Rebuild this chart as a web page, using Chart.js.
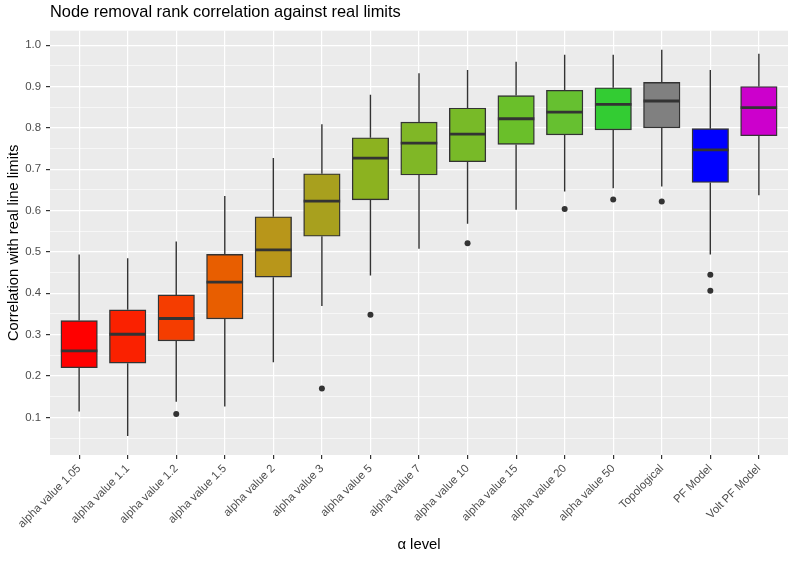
<!DOCTYPE html>
<html>
<head>
<meta charset="utf-8">
<script src="https://cdn.jsdelivr.net/npm/chart.js@4/dist/chart.umd.min.js"></script>
<style>
  body { margin: 0; background: #fff; }
</style>
</head>
<body>
<canvas id="box_chart" width="795" height="561"></canvas>
<script>
// categories and the five-number summaries
var categories = ["alpha value 1.05", "alpha value 1.1", "alpha value 1.2", "alpha value 1.5",
    "alpha value 2", "alpha value 3", "alpha value 5", "alpha value 7", "alpha value 10",
    "alpha value 15", "alpha value 20", "alpha value 50", "Topological", "PF Model", "Volt PF Model"];
var whiskerLow  = [0.114, 0.055, 0.138, 0.126, 0.233, 0.369, 0.443, 0.508, 0.568, 0.602, 0.646, 0.654, 0.658, 0.494, 0.637];
var lowerQ      = [0.220, 0.231, 0.285, 0.338, 0.439, 0.538, 0.626, 0.686, 0.718, 0.760, 0.783, 0.795, 0.800, 0.668, 0.781];
var medians     = [0.261, 0.301, 0.339, 0.427, 0.505, 0.623, 0.727, 0.763, 0.785, 0.822, 0.838, 0.857, 0.865, 0.747, 0.849];
var upperQ      = [0.334, 0.360, 0.396, 0.494, 0.585, 0.689, 0.776, 0.814, 0.848, 0.878, 0.891, 0.897, 0.910, 0.798, 0.900];
var whiskerHigh = [0.494, 0.485, 0.525, 0.635, 0.727, 0.809, 0.880, 0.932, 0.940, 0.960, 0.977, 0.977, 0.989, 0.940, 0.979];
var outliers = [[], [], [0.108], [], [], [0.170], [0.348], [], [0.521], [], [0.604], [0.627], [0.622], [0.445, 0.406], []];
var boxColors = ["#FF0000", "#FA2100", "#F53D00", "#E85E00", "#B8961A", "#A8A01E", "#8CB220", "#80B726",
    "#78BA28", "#6ABF2A", "#66C030", "#33CC33", "#808080", "#0000FF", "#CC00CC"];
var yMajor = [0.1, 0.2, 0.3, 0.4, 0.5, 0.6, 0.7, 0.8, 0.9, 1.0];
var yMinor = [0.05, 0.15, 0.25, 0.35, 0.45, 0.55, 0.65, 0.75, 0.85, 0.95];

var FONT = '"Liberation Sans", Arial, Helvetica, sans-serif';
var DARK = '#333333';

function isMajor(v) {
    return yMajor.some(function (m) { return Math.abs(m - v) < 1e-6; });
}

var boxes = categories.map(function (c, i) {
    return { x: i, y: [lowerQ[i], upperQ[i]] };
});
var outlierPoints = [];
outliers.forEach(function (list, i) {
    list.forEach(function (v) { outlierPoints.push({ x: i, y: v }); });
});

// grey panel, whiskers and medians
var boxPlugin = {
    id: 'boxExtras',
    beforeDraw: function (chart) {
        var a = chart.chartArea, ctx = chart.ctx;
        ctx.save();
        ctx.fillStyle = '#EBEBEB';
        ctx.fillRect(a.left, a.top, a.right - a.left, a.bottom - a.top);
        ctx.restore();
    },
    beforeDatasetsDraw: function (chart) {
        var ctx = chart.ctx, xs = chart.scales.x, ys = chart.scales.y;
        ctx.save();
        ctx.strokeStyle = DARK;
        ctx.lineWidth = 1.4;
        categories.forEach(function (c, i) {
            var x = xs.getPixelForValue(i);
            ctx.beginPath();
            ctx.moveTo(x, ys.getPixelForValue(whiskerLow[i]));
            ctx.lineTo(x, ys.getPixelForValue(lowerQ[i]));
            ctx.moveTo(x, ys.getPixelForValue(upperQ[i]));
            ctx.lineTo(x, ys.getPixelForValue(whiskerHigh[i]));
            ctx.stroke();
        });
        ctx.restore();
    },
    afterDatasetsDraw: function (chart) {
        var ctx = chart.ctx, ys = chart.scales.y;
        var meta = chart.getDatasetMeta(0);
        ctx.save();
        ctx.strokeStyle = DARK;
        ctx.lineWidth = 2.8;
        categories.forEach(function (c, i) {
            var bar = meta.data[i];
            var half = bar.width / 2;
            var y = ys.getPixelForValue(medians[i]);
            ctx.beginPath();
            ctx.moveTo(bar.x - half, y);
            ctx.lineTo(bar.x + half, y);
            ctx.stroke();
        });
        ctx.restore();
    }
};

new Chart(document.getElementById("box_chart").getContext("2d"), {
    type: 'bar',
    data: {
        datasets: [{
            data: boxes,
            backgroundColor: boxColors,
            borderColor: DARK,
            borderWidth: 1.4,
            borderSkipped: false,
            barThickness: 36.5
        }, {
            type: 'scatter',
            data: outlierPoints,
            pointRadius: 3,
            pointBackgroundColor: DARK,
            pointBorderWidth: 0
        }]
    },
    options: {
        responsive: false,
        animation: false,
        layout: { padding: { left: 0, right: 7, top: 0, bottom: 0 } },
        plugins: {
            legend: { display: false },
            tooltip: { enabled: false },
            title: {
                display: true,
                text: 'Node removal rank correlation against real limits',
                align: 'start',
                fullSize: false,
                color: '#000',
                font: { family: FONT, size: 16.4, weight: 'normal' },
                padding: { top: 2.5, bottom: 8.5 }
            }
        },
        scales: {
            x: {
                type: 'linear',
                min: -0.6,
                max: 14.6,
                offset: false,
                afterBuildTicks: function (scale) {
                    scale.ticks = categories.map(function (c, i) { return { value: i }; });
                },
                afterFit: function (scale) { scale.height = 106; },
                border: { display: false },
                grid: {
                    offset: false,
                    color: '#FFFFFF',
                    lineWidth: 1.2,
                    tickColor: DARK,
                    tickLength: 4,
                    tickWidth: 1.2
                },
                ticks: {
                    autoSkip: false,
                    minRotation: 45,
                    maxRotation: 45,
                    padding: 3,
                    color: '#4D4D4D',
                    font: { family: FONT, size: 11.4 },
                    callback: function (v) { return categories[v]; }
                },
                title: {
                    display: true,
                    text: 'α level',
                    color: '#000',
                    font: { family: FONT, size: 14.8 },
                    padding: { top: 0, bottom: 7.1 }
                }
            },
            y: {
                type: 'linear',
                min: 0.009,
                max: 1.035,
                afterBuildTicks: function (scale) {
                    scale.ticks = yMinor.concat(yMajor).sort(function (a, b) { return a - b; })
                        .map(function (v) { return { value: v }; });
                },
                afterFit: function (scale) { scale.width = 50; },
                border: { display: false },
                grid: {
                    color: '#FFFFFF',
                    lineWidth: function (ctx) { return isMajor(ctx.tick.value) ? 1.2 : 0.6; },
                    tickColor: function (ctx) { return isMajor(ctx.tick.value) ? DARK : 'rgba(0,0,0,0)'; },
                    tickLength: 4,
                    tickWidth: 1.2
                },
                ticks: {
                    autoSkip: false,
                    padding: 5,
                    color: '#4D4D4D',
                    font: { family: FONT, size: 11.4 },
                    callback: function (v) { return isMajor(v) ? v.toFixed(1) : ''; }
                },
                title: {
                    display: true,
                    text: 'Correlation with real line limits',
                    color: '#000',
                    font: { family: FONT, size: 14.8 },
                    padding: { top: 4.6, bottom: 0 }
                }
            }
        }
    },
    plugins: [boxPlugin]
});
</script>
</body>
</html>
